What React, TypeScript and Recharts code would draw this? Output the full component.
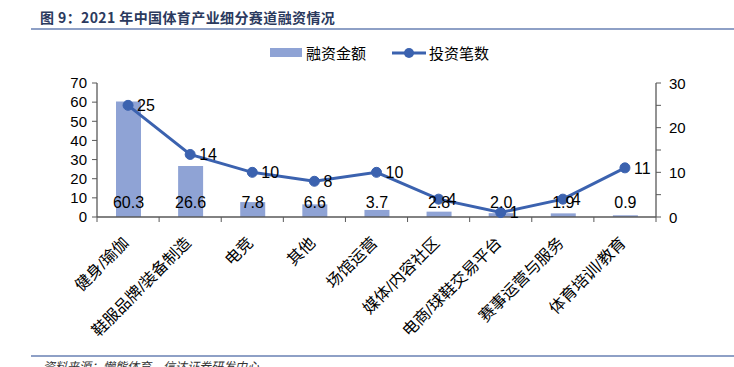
import React from 'react';
import { ComposedChart, Bar, Line, XAxis, YAxis, LabelList } from 'recharts';

const categories = ['健身/瑜伽', '鞋服品牌/装备制造', '电竞', '其他', '场馆运营', '媒体/内容社区', '电商/球鞋交易平台', '赛事运营与服务', '体育培训/教育'];
const amounts = [60.3, 26.6, 7.8, 6.6, 3.7, 2.8, 2.0, 1.9, 0.9];
const deals = [25, 14, 10, 8, 10, 4, 1, 4, 11];
const leftTicks = [0, 10, 20, 30, 40, 50, 60, 70];
const rightTicks = [0, 5, 10, 15, 20, 25, 30];

const seriesNames = { amount: '融资金额', deals: '投资笔数' };
const title = '图 9：2021 年中国体育产业细分赛道融资情况';
const source = '资料来源：懒熊体育，信达证券研发中心';

const data = categories.map((c, i) => ({ name: c, amount: amounts[i], deals: deals[i] }));

const FONT = '"Liberation Sans", Arial, "Noto Sans CJK SC", sans-serif';
const BAR_COLOR = '#8FA3D5';
const LINE_COLOR = '#3B62AF';
const AXIS_COLOR = '#595959';

const XTick = (props: any) => {
  const { x, y, payload, index, visibleTicksCount } = props;
  const half = payload && payload.offset ? payload.offset : 31;
  const axisY = y - 7;
  const last = index === (visibleTicksCount ?? categories.length) - 1;
  const ax = x - 2;
  const ay = y + 16;
  return (
    <g>
      <line x1={x - half} x2={x - half} y1={axisY} y2={axisY + 5} stroke={AXIS_COLOR} strokeWidth={1} />
      {last && <line x1={x + half} x2={x + half} y1={axisY} y2={axisY + 5} stroke={AXIS_COLOR} strokeWidth={1} />}
      <text
        x={ax}
        y={ay}
        transform={`rotate(-45, ${ax}, ${ay})`}
        textAnchor="end"
        dominantBaseline="central"
        fontSize={16}
        fontFamily={FONT}
        fill="#000"
      >
        {payload.value}
      </text>
    </g>
  );
};

const RightTick = (props: any) => {
  const { x, y, payload } = props;
  if (payload.value % 10 !== 0) return null;
  return (
    <text x={x} y={y} textAnchor="start" dominantBaseline="central" fontSize={15} fontFamily={FONT} fill="#000">
      {payload.value}
    </text>
  );
};

const BarLabel = (props: any) => {
  const { x, y, width, height, value } = props;
  return (
    <text x={x + width / 2} y={y + height - 15} textAnchor="middle" dominantBaseline="central" fontSize={16} fontFamily={FONT} fill="#000">
      {Number(value).toFixed(1)}
    </text>
  );
};

const LegendBox = () => (
  <div style={{ position: 'absolute', left: 270, top: 42, display: 'flex', alignItems: 'center', fontFamily: FONT, fontSize: 15, color: '#000' }}>
    <span style={{ display: 'inline-block', width: 32, height: 9, background: BAR_COLOR, marginRight: 4 }} />
    <span>{seriesNames.amount}</span>
    <svg width={34} height={12} style={{ marginLeft: 26, marginRight: 3 }}>
      <line x1={0} x2={34} y1={6} y2={6} stroke={LINE_COLOR} strokeWidth={3} />
      <circle cx={17} cy={6} r={5} fill={LINE_COLOR} />
    </svg>
    <span>{seriesNames.deals}</span>
  </div>
);

export default function App() {
  return (
    <div style={{ position: 'absolute', left: 0, top: 0, width: 734, height: 367, overflow: 'hidden', background: '#fff' }}>
      <div style={{ position: 'absolute', left: 40, top: 7, fontFamily: '"Noto Sans CJK SC", sans-serif', fontWeight: 700, fontSize: 14, letterSpacing: 0.4, color: '#2B3A5E', whiteSpace: 'nowrap' }}>
        {title}
      </div>
      <div style={{ position: 'absolute', left: 31, top: 28, width: 703, height: 1.5, background: '#8EA0C6' }} />
      <LegendBox />
      <ComposedChart width={734} height={367} data={data} margin={{ top: 83, right: 18, left: 37, bottom: 20 }} style={{ position: 'absolute', left: 0, top: 0 }}>
        <XAxis
          dataKey="name"
          xAxisId="x"
          height={130}
          interval={0}
          tick={<XTick />}
          tickLine={false}
          tickSize={5}
          tickMargin={2}
          axisLine={{ stroke: AXIS_COLOR, strokeWidth: 1.3 }}
        />
        <YAxis
          yAxisId="left"
          domain={[0, 70]}
          ticks={leftTicks}
          width={60}
          tickSize={5}
          tickMargin={5}
          axisLine={{ stroke: AXIS_COLOR, strokeWidth: 1.3 }}
          tickLine={{ stroke: AXIS_COLOR }}
          tick={{ fontSize: 15, fontFamily: FONT, fill: '#000' }}
          interval={0}
        />
        <YAxis
          yAxisId="right"
          orientation="right"
          domain={[0, 30]}
          ticks={rightTicks}
          width={60}
          tickSize={5}
          tickMargin={8}
          axisLine={{ stroke: AXIS_COLOR, strokeWidth: 1.3 }}
          tickLine={{ stroke: AXIS_COLOR }}
          tick={<RightTick />}
          interval={0}
        />
        <Bar dataKey="amount" xAxisId="x" yAxisId="left" fill={BAR_COLOR} barSize={25} isAnimationActive={false}>
          <LabelList dataKey="amount" content={<BarLabel />} />
        </Bar>
        <Line
          dataKey="deals"
          xAxisId="x"
          yAxisId="right"
          stroke={LINE_COLOR}
          strokeWidth={3}
          dot={{ r: 5, fill: LINE_COLOR, stroke: LINE_COLOR, strokeWidth: 1 }}
          isAnimationActive={false}
        >
          <LabelList dataKey="deals" position="right" offset={9} fontSize={16} fontFamily={FONT} fill="#000" />
        </Line>
      </ComposedChart>
      <div style={{ position: 'absolute', left: 31, top: 355, width: 703, height: 1.5, background: '#8EA0C6' }} />
      <div style={{ position: 'absolute', left: 43, top: 357, fontFamily: '"Noto Sans CJK SC", sans-serif', fontStyle: 'italic', fontSize: 12, color: '#333', whiteSpace: 'nowrap' }}>
        {source}
      </div>
    </div>
  );
}
